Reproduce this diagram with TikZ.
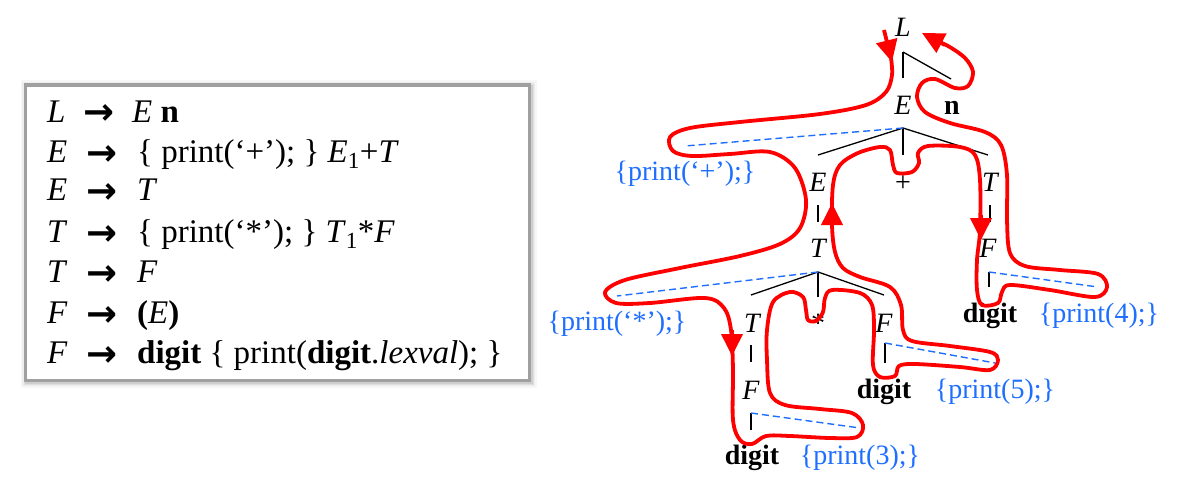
\documentclass[tikz,border=0pt]{standalone}
\usepackage{fontspec}
\setmainfont{Liberation Serif}
\newfontfamily\arrowfont{DejaVu Sans}
\usetikzlibrary{arrows.meta}
\definecolor{pblue}{RGB}{30,110,255}
\definecolor{pred}{RGB}{255,0,0}
\definecolor{boxgray}{RGB}{160,160,160}
\begin{document}
\begin{tikzpicture}[x=1pt,y=-1pt,
  lab/.style={inner sep=0pt, anchor=base, font=\fontsize{28}{34}\selectfont},
  nt/.style={lab, font=\fontsize{28}{34}\selectfont\itshape},
  tok/.style={lab, font=\fontsize{28}{34}\selectfont\bfseries},
  act/.style={lab, text=pblue},
  tline/.style={black, line width=1.3pt},
  dline/.style={pblue, line width=1.4pt, dash pattern=on 7pt off 4pt},
  tour/.style={pred, line width=3.8pt, line cap=round, line join=round},
  tiparrow/.style={pred, line width=3.8pt, -{Triangle[length=22pt,width=21pt]}},
  gram/.style={inner sep=0pt, anchor=base west, font=\fontsize{33}{40}\selectfont},
  garr/.style={inner sep=0pt, anchor=base west, font=\fontsize{37}{44}\arrowfont\bfseries},
]
\useasboundingbox (0,0) rectangle (1178,487);

% ---------- grammar box ----------
\node[minimum width=504pt, minimum height=295pt, inner sep=0pt, outer sep=0pt] (box) at (277,232.5) {};
\foreach \w/\o in {12/0.03,9/0.04,6/0.06,4/0.08}
  \draw[black, opacity=\o, line width=\w pt] ([xshift=1.5pt,yshift=-1.5pt]box.north west) rectangle ([xshift=1.5pt,yshift=-1.5pt]box.south east);
\draw[boxgray, line width=3pt, fill=white] (box.north west) rectangle (box.south east);

\node[gram] (g1l) at (47,122) {\textit{L}};
\node[garr] (g1a) at (83,124) {→};
\node[gram] (g1r) at (132,122) {\textit{E} \textbf{n}};

\node[gram] (g2l) at (47,162) {\textit{E}};
\node[garr] (g2a) at (86,165) {→};
\node[gram] (g2r) at (137,162) {\{ print(‘+’); \} \textit{E}\textsubscript{1}+\textit{T}};

\node[gram] (g3l) at (47,200) {\textit{E}};
\node[garr] (g3a) at (86,203) {→};
\node[gram] (g3r) at (137,200) {\textit{T}};

\node[gram] (g4l) at (47,242) {\textit{T}};
\node[garr] (g4a) at (86,245) {→};
\node[gram] (g4r) at (137,242) {\{ print(‘*’); \} \textit{T}\textsubscript{1}*\textit{F}};

\node[gram] (g5l) at (47,282) {\textit{T}};
\node[garr] (g5a) at (86,285) {→};
\node[gram] (g5r) at (137,282) {\textit{F}};

\node[gram] (g6l) at (47,323) {\textit{F}};
\node[garr] (g6a) at (86,326) {→};
\node[gram] (g6r) at (137,323) {\textbf{(}\textit{E}\textbf{)}};

\node[gram] (g7l) at (47,363) {\textit{F}};
\node[garr] (g7a) at (86,366) {→};
\node[gram] (g7r) at (137,363) {\textbf{digit} \{ print(\textbf{digit}.\textit{lexval}); \}};

% ---------- parse tree nodes ----------
\node[nt] (L) at (903,37) {L};
\node[nt] (E1) at (903,114) {E};
\node[tok] (n) at (952,114) {n};
\node[act] (pplus) at (685,180) {\{print(‘+’);\}};
\node[nt] (E2) at (818,191) {E};
\node[lab] (plus) at (903,191) {+};
\node[nt] (T1) at (990,191) {T};
\node[nt] (T2) at (818,257) {T};
\node[nt] (F1) at (988,257) {F};
\node[act] (pstar) at (617,330) {\{print(‘*’);\}};
\node[nt] (T3) at (752,332) {T};
\node[lab] (star) at (818,332) {*};
\node[nt] (F2) at (884,332) {F};
\node[nt] (F3) at (751,399) {F};
\node[tok] (d4) at (990,322) {digit};
\node[act] (p4) at (1099,322) {\{print(4);\}};
\node[tok] (d5) at (884,398) {digit};
\node[act] (p5) at (995,398) {\{print(5);\}};
\node[tok] (d3) at (752,464) {digit};
\node[act] (p3) at (860,464) {\{print(3);\}};

% ---------- tree edges ----------
\coordinate (aL) at (903,52);   \coordinate (aL1) at (903,78);  \coordinate (aL2) at (951,79);
\coordinate (aE) at (903,128);  \coordinate (aE1) at (818,155); \coordinate (aE2) at (903,155);
\coordinate (aE3) at (988,155); \coordinate (aEd) at (685,146);
\coordinate (bE2) at (818,205); \coordinate (bE2e) at (818,222);
\coordinate (bT1) at (990,205); \coordinate (bT1e) at (990,222);
\coordinate (aT) at (818,272);  \coordinate (aT1) at (751,295); \coordinate (aT2) at (818,297);
\coordinate (aT3) at (884,295); \coordinate (aTd) at (617,296);
\coordinate (bT3) at (751,345); \coordinate (bT3e) at (751,362);
\coordinate (cF3) at (751,413); \coordinate (cF3e) at (751,430); \coordinate (cF3d) at (860,428);
\coordinate (cF2) at (885,343); \coordinate (cF2e) at (885,363); \coordinate (cF2d) at (995,363);
\coordinate (cF1) at (989,272); \coordinate (cF1e) at (989,287); \coordinate (cF1d) at (1098,287);

\draw[tline] (aL) -- (aL1);
\draw[tline] (aL) -- (aL2);
\draw[tline] (aE) -- (aE1);
\draw[tline] (aE) -- (aE2);
\draw[tline] (aE) -- (aE3);
\draw[dline] (aE) -- (aEd);
\draw[tline] (bE2) -- (bE2e);
\draw[tline] (bT1) -- (bT1e);
\draw[tline] (aT) -- (aT1);
\draw[tline] (aT) -- (aT2);
\draw[tline] (aT) -- (aT3);
\draw[dline] (aT) -- (aTd);
\draw[tline] (bT3) -- (bT3e);
\draw[tline] (cF3) -- (cF3e);
\draw[dline] (cF3) -- (cF3d);
\draw[tline] (cF2) -- (cF2e);
\draw[dline] (cF2) -- (cF2d);
\draw[tline] (cF1) -- (cF1e);
\draw[dline] (cF1) -- (cF1d);

% ---------- red tour ----------
\draw[tour] plot[smooth, tension=0.55] coordinates {
(891,58) (892,75) (886,92) (866,105) (820,114) (740,122) (690,128) (670,137) (673,151)
(692,156) (730,154) (770,152) (795,168) (806,200) (800,228) (780,244) (740,256) (680,268)
(625,280) (605,292) (616,303) (650,303) (705,298) (724,308) (731,330) (733,370) (733,420)
(740,440) (752,444) (766,436) (790,436) (830,438) (857,437) (863,425) (852,413) (820,409)
(785,405) (770,393) (767,360) (767,330) (773,302) (790,292) (803,297) (806,310) (808,320)
(816,321) (823,312) (825,298) (832,290) (860,293) (872,305) (874,330) (873,365) (880,377)
(895,376) (899,366) (915,364) (960,367) (990,370) (998,360) (990,352) (950,346) (912,341)
(903,330) (901,305) (890,287) (860,277) (843,268) (835,252) (832,225) (833,185) (840,165)
(858,153) (880,147) (890,150) (893,165) (897,173) (912,172) (919,163) (918,153) (928,146)
(960,147) (975,155) (980,180) (980,230) (977,260) (977,290) (982,305) (998,303) (1002,292)
(1010,285) (1050,290) (1095,297) (1107,287) (1098,274) (1060,270) (1025,266) (1010,253)
(1007,220) (1007,175) (1001,145) (985,132) (950,123) (925,112) (917,97) (922,83) (935,79)
(955,88) (968,86) (973,72) (965,58) (948,46) (932,39)
};
\draw[tiparrow] (884,30) -- (892,62);
\draw[tiparrow] (732,330) -- (732,356);
\draw[tiparrow] (832,228) -- (832,203);
\draw[tiparrow] (981,215) -- (981,240);
\draw[tiparrow] (945,45) -- (922,33);
\end{tikzpicture}
\end{document}
